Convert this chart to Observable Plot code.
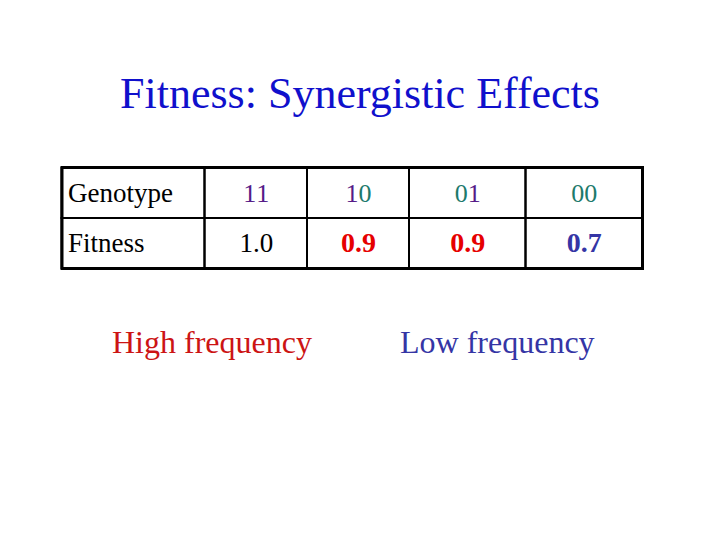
<!DOCTYPE html>
<html>
<head>
<meta charset="utf-8">
<script src="https://cdn.jsdelivr.net/npm/d3@7"></script>
<script src="https://cdn.jsdelivr.net/npm/@observablehq/plot@0.6"></script>
<style>
  html, body { margin: 0; padding: 0; background: #ffffff; }
  #page { position: relative; width: 720px; height: 540px; font-family: "Liberation Serif", "Times New Roman", serif; overflow: hidden; }
  #title { position: absolute; left: 0; top: 72px; width: 720px; text-align: center; font-size: 44px; line-height: 44px; color: #1010cc; white-space: nowrap; }
  #table { position: absolute; left: 0; top: 150px; }
  .freq { position: absolute; top: 326px; font-size: 32px; line-height: 32px; white-space: nowrap; }
  #high { left: 112px; color: #cc1414; }
  #low { left: 400px; color: #3535a5; }
</style>
</head>
<body>
<div id="page">
  <div id="title"></div>
  <div id="table"></div>
  <div id="high" class="freq"></div>
  <div id="low" class="freq"></div>
</div>
<script>
// ---- data ----
const titleText = "Fitness: Synergistic Effects";
const rowLabels = ["Genotype", "Fitness"];
const genotypes = ["11", "10", "01", "00"];
const fitness = [1.0, 0.9, 0.9, 0.7];
const frequencyLabels = ["High frequency", "Low frequency"];

// ---- styles ----
const purple = "#561b88";
const teal = "#1d7a6c";
const red = "#e60000";
const blue = "#3535a5";
const font = "Liberation Serif";

document.getElementById("title").textContent = titleText;
document.getElementById("high").textContent = frequencyLabels[0];
document.getElementById("low").textContent = frequencyLabels[1];

// column index 0 = row-label column, 1..4 = genotype columns
const columns = d3.range(genotypes.length + 1);
const cells = rowLabels.flatMap(r => columns.map(c => ({row: r, col: c})));
const geno = genotypes.map((g, i) => ({col: i + 1, a: g[0], b: g[1]}));
const fit = fitness.map((v, i) => ({col: i + 1, v, label: v.toFixed(1)}));
const digitColor = ch => ch === "1" ? purple : teal;

const chart = Plot.plot({
  width: 720,
  height: 130,
  marginTop: 17,
  marginBottom: 12,
  marginLeft: 61.5,
  marginRight: 78,
  style: {fontFamily: font, background: "transparent", overflow: "visible"},
  x: {type: "linear", domain: [0, 1, 2, 3, 4, 5], range: [61.5, 204.5, 307, 409, 525.5, 642], axis: null},
  y: {domain: rowLabels, padding: 0, axis: null},
  marks: [
    Plot.rect(cells, {x1: d => d.col, x2: d => d.col + 1, y: "row", stroke: "black", strokeWidth: 2, fill: "none"}),
    Plot.frame({stroke: "black", strokeWidth: 3}),
    Plot.text(rowLabels, {x: () => 0, y: d => d, text: d => d, textAnchor: "start", dx: 6, fontSize: 27, fill: "black"}),
    // genotype digits, each coloured by allele
    Plot.text(geno, {x: d => d.col + 0.5, y: () => rowLabels[0], text: "a", dx: -6.5, fontSize: 26, fill: d => digitColor(d.a)}),
    Plot.text(geno, {x: d => d.col + 0.5, y: () => rowLabels[0], text: "b", dx: 6.5, fontSize: 26, fill: d => digitColor(d.b)}),
    // fitness values
    Plot.text(fit, {filter: d => d.v === 1, x: d => d.col + 0.5, y: () => rowLabels[1], text: "label", fontSize: 27, fill: "black"}),
    Plot.text(fit, {filter: d => d.v < 1 && d.v > 0.8, x: d => d.col + 0.5, y: () => rowLabels[1], text: "label", fontSize: 28, fontWeight: "bold", fill: red}),
    Plot.text(fit, {filter: d => d.v <= 0.8, x: d => d.col + 0.5, y: () => rowLabels[1], text: "label", fontSize: 28, fontWeight: "bold", fill: blue})
  ]
});
document.getElementById("table").appendChild(chart);
</script>
</body>
</html>
